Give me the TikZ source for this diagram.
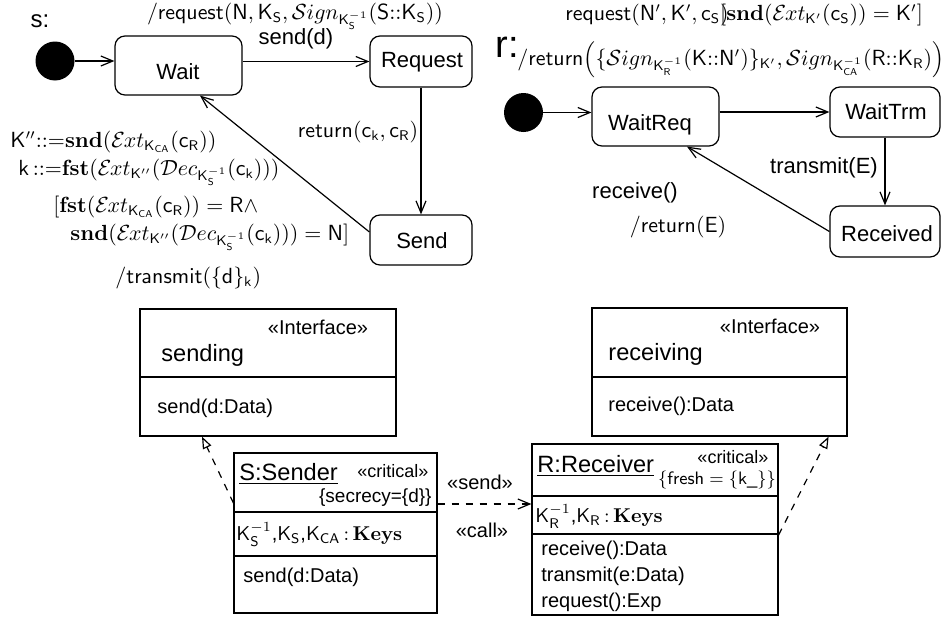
\documentclass[tikz,border=0pt]{standalone}
\usepackage[no-math]{fontspec}
\setmainfont{Liberation Sans}
\usetikzlibrary{fit,arrows.meta,calc}
\newcommand{\sfx}[1]{\mathsf{#1}}
\newcommand{\Extx}{\mathcal{E}\mkern-1mu xt}
\newcommand{\Sgnx}{\mathcal{S}ign}
\newcommand{\Dcrx}{\mathcal{D}ec}
\tikzset{
  lw/.style={line width=0.6pt},
  stbox/.style={draw, lw, rounded corners=5pt, inner sep=0pt},
  clsbox/.style={draw, lw, inner sep=0pt},
  initdot/.style={circle, fill=black, minimum size=19.5pt, inner sep=0pt},
  arr/.style={lw, -{Straight Barb[length=6pt,width=5pt]}},
  dashbarb/.style={lw, dash pattern=on 3.5pt off 3.5pt, -{Straight Barb[length=6pt,width=5pt]}},
  realize/.style={lw, dash pattern=on 3.5pt off 3.5pt, -{Triangle[open,length=6pt,width=4.5pt]}},
  stname/.style={font=\fontsize{11}{13}\selectfont, inner sep=0pt},
  evlab/.style={font=\fontsize{11}{13}\selectfont, inner sep=0pt},
  mlab/.style={font=\fontsize{10.6}{12}\selectfont, inner sep=0pt},
  stereo/.style={font=\fontsize{9}{11}\selectfont, inner sep=0pt},
  ctext/.style={font=\fontsize{10}{12}\selectfont, inner sep=0pt},
  cname/.style={font=\fontsize{11.8}{14}\selectfont, inner sep=0pt},
}
\begin{document}
\begin{tikzpicture}[x=0.5pt,y=-0.5pt]
\useasboundingbox (0,0) rectangle (943,621);

% ---------- sender state machine ----------
\node[font=\fontsize{12}{14}\selectfont, inner sep=0pt, anchor=base] (slab) at (40,27) {s:};
\node[initdot] (dot1) at (55,61) {};
\node[stbox, fit={(115,36) (242,95)}] (wait) {};
\node[stbox, fit={(370,36) (472,87)}] (request) {};
\node[stbox, fit={(370,215) (472,265)}] (send) {};
\node[stname, anchor=base] (waitT) at (178,79) {Wait};
\node[stname, anchor=base] (requestT) at (422,68) {Request};
\node[stname, anchor=base] (sendT) at (422,248) {Send};

\draw[arr] (dot1.east) -- (dot1.east -| wait.west);
\draw[arr] (wait.east |- request.west) -- (request.west);
\draw[arr] (request.south) -- (send.north);
\draw[arr] ([yshift=4pt]send.west) -- ([xshift=10.75pt]wait.south);

\node[mlab, anchor=base] (l1) at (295,19)
  {$/\sfx{request}(\sfx{N},\sfx{K_S},\Sgnx_{\sfx{K}_{\sfx{S}}^{-1}}(\sfx{S}{::}\sfx{K_S}))$};
\node[evlab, anchor=base] (l2) at (296,45) {send(d)};
\node[mlab, anchor=base] (l3) at (358,137) {$\sfx{return}(\sfx{c_k},\sfx{c_R})$};
\node[mlab, anchor=base west] (l4) at (10,147)
  {$\sfx{K}''{::=}\mathbf{snd}(\Extx_{\sfx{K_{CA}}}(\sfx{c_R}))$};
\node[mlab, anchor=base west] (l5) at (18,175)
  {$\sfx{k}\,{::=}\mathbf{fst}(\Extx_{\sfx{K}''}(\Dcrx_{\sfx{K}_{\sfx{S}}^{-1}}(\sfx{c_k})))$};
\node[mlab, anchor=base west] (l6) at (53,212)
  {$[\mathbf{fst}(\Extx_{\sfx{K_{CA}}}(\sfx{c_R}))=\sfx{R}\wedge$};
\node[mlab, anchor=base west] (l7) at (70,240)
  {$\mathbf{snd}(\Extx_{\sfx{K}''}(\Dcrx_{\sfx{K}_{\sfx{S}}^{-1}}(\sfx{c_k})))=\sfx{N}]$};
\node[mlab, anchor=base west] (l8) at (115,283)
  {$/\sfx{transmit}(\{\sfx{d}\}_{\sfx{k}})$};

% ---------- receiver state machine ----------
\node[font=\fontsize{19}{22}\selectfont, inner sep=0pt, anchor=base] (rlab) at (507,57) {r:};
\node[initdot] (dot2) at (523.5,112.5) {};
\node[stbox, fit={(592,87) (719,146)}] (waitreq) {};
\node[stbox, fit={(830,87) (940,137)}] (waittrm) {};
\node[stbox, fit={(830,206) (940,257)}] (received) {};
\node[stname, anchor=base] (waitreqT) at (650,130) {WaitReq};
\node[stname, anchor=base] (waittrmT) at (886,119) {WaitTrm};
\node[stname, anchor=base] (receivedT) at (887,241) {Received};

\draw[arr] (dot2.east) -- (dot2.east -| waitreq.west);
\draw[arr] (waitreq.east |- waittrm.west) -- (waittrm.west);
\draw[arr] (waittrm.south) -- (received.north);
\draw[arr] (received.west) -- ([xshift=15.75pt]waitreq.south);

\node[mlab, anchor=base west] (r1) at (565,20)
  {$\sfx{request}(\sfx{N}',\sfx{K}',\sfx{c_S})\mkern-7mu[\mathbf{snd}(\Extx_{\sfx{K}'}(\sfx{c_S}))=\sfx{K}']$};
\node[mlab, anchor=base west] (r2) at (517,65)
  {$/\sfx{return}\Bigl(\{\Sgnx_{\sfx{K}_{\sfx{R}}^{-1}}(\sfx{K}{::}\sfx{N}')\}_{\sfx{K}'},\Sgnx_{\sfx{K}_{\sfx{CA}}^{-1}}(\sfx{R}{::}\sfx{K_R})\Bigr)$};
\node[evlab, anchor=base] (r3) at (824,173) {transmit(E)};
\node[evlab, anchor=base] (r4) at (635,198) {receive()};
\node[mlab, anchor=base] (r5) at (678,232) {$/\sfx{return}(\sfx{E})$};

% ---------- class diagram ----------
\node[clsbox, fit={(140,309) (396,436)}] (sending) {};
\draw[lw] (140,377) -- (396,377);
\node[ctext, anchor=base] (sendingS) at (318,334) {«Interface»};
\node[cname, anchor=base west] (sendingN) at (161,361) {sending};
\node[ctext, anchor=base west] (sendingO) at (157,413) {send(d:Data)};

\node[clsbox, fit={(592,308) (847,436)}] (receiving) {};
\draw[lw] (592,377) -- (847,377);
\node[ctext, anchor=base] (receivingS) at (770,333) {«Interface»};
\node[cname, anchor=base west] (receivingN) at (608,360) {receiving};
\node[ctext, anchor=base west] (receivingO) at (608,411) {receive():Data};

\node[clsbox, fit={(234,453) (437,613)}] (sender) {};
\draw[lw] (234,512) -- (437,512);
\draw[lw] (234,556) -- (437,556);
\node[cname, anchor=base west] (senderN) at (239,480) {\underline{S:Sender}};
\node[stereo, anchor=base] (senderS) at (393,477) {«critical»};
\node[ctext, anchor=base east] (senderT) at (432,502) {\fontsize{9.5}{11}\selectfont\{secrecy=\{d\}\}};
\node[ctext, anchor=base west] (senderA) at (236,540)
  {$\sfx{K}_{\sfx{S}}^{-1}$,$\sfx{K_S}$,$\sfx{K_{CA}}\,{:}\,\mathbf{Keys}$};
\node[ctext, anchor=base west] (senderO) at (243,582) {send(d:Data)};

\node[clsbox, fit={(532,444) (778,615)}] (receiver) {};
\draw[lw] (532,496) -- (778,496);
\draw[lw] (532,534) -- (778,534);
\node[cname, anchor=base west] (receiverN) at (537,472) {\underline{R:Receiver}};
\node[stereo, anchor=base] (receiverS) at (733,463) {«critical»};
\node[font=\fontsize{9.2}{11}\selectfont, inner sep=0pt, anchor=base] (receiverT) at (717,484) {$\{\sfx{fresh}=\{\sfx{k}\hbox{\_}\}\}$};
\node[ctext, anchor=base west] (receiverA) at (535,522)
  {$\sfx{K}_{\sfx{R}}^{-1}$,$\sfx{K_R}\,{:}\,\mathbf{Keys}$};
\node[ctext, anchor=base west] (receiverO1) at (541,555) {receive():Data};
\node[ctext, anchor=base west] (receiverO2) at (541,581) {transmit(e:Data)};
\node[ctext, anchor=base west] (receiverO3) at (541,607) {request():Exp};

\coordinate (callY) at (0,504);
\draw[realize] ([yshift=15pt]sender.west) -- ([xshift=-33pt]sending.south);
\draw[dashbarb] (sender.east |- callY) -- (receiver.west |- callY);
\draw[realize] ([yshift=-2.75pt]receiver.east) -- ([xshift=-9.5pt]receiving.south east);
\node[ctext, anchor=base] (sendSt) at (480,489) {«send»};
\node[ctext, anchor=base] (callSt) at (482,537) {«call»};
\end{tikzpicture}
\end{document}
